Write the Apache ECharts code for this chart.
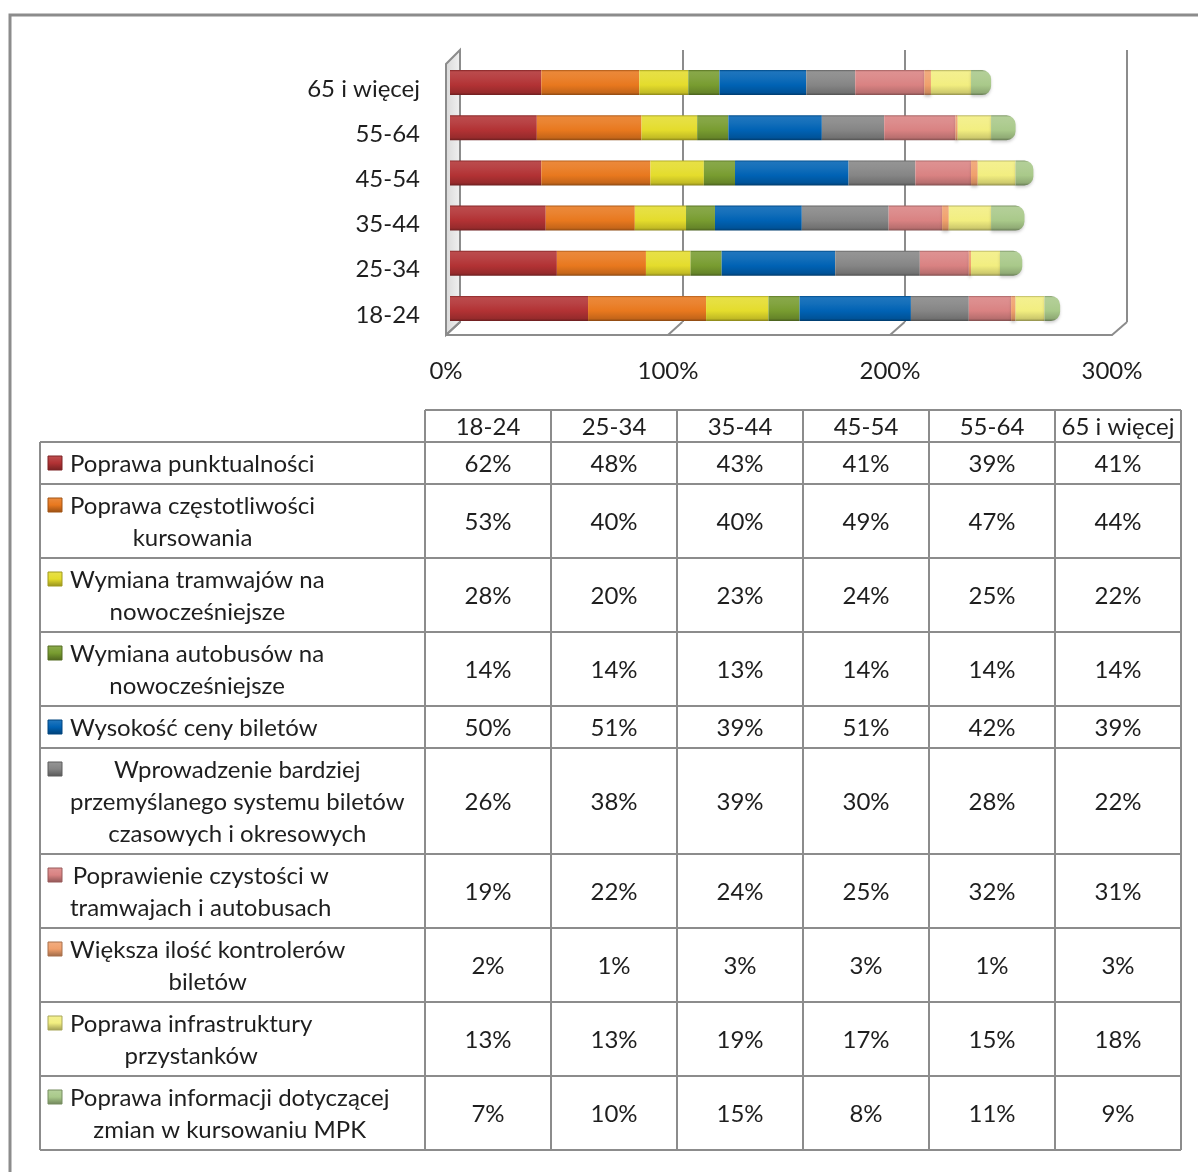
<!DOCTYPE html>
<html>
<head>
<meta charset="utf-8">
<script src="https://cdn.jsdelivr.net/npm/echarts@6/dist/echarts.min.js"></script>
<style>
html,body{margin:0;padding:0;background:#fff;}
#c{width:1198px;height:1172px;}
</style>
</head>
<body>
<div id="c"></div>
<script>
// ---------- DATA ----------
const ageGroups = ['18-24', '25-34', '35-44', '45-54', '55-64', '65 i więcej'];
const xTicks = [0, 100, 200, 300];

const seriesNames = [
  'Poprawa punktualności',
  'Poprawa częstotliwości\nkursowania',
  'Wymiana tramwajów na\nnowocześniejsze',
  'Wymiana autobusów na\nnowocześniejsze',
  'Wysokość ceny biletów',
  'Wprowadzenie bardziej\nprzemyślanego systemu biletów\nczasowych i okresowych',
  'Poprawienie czystości w\ntramwajach i autobusach',
  'Większa ilość kontrolerów\nbiletów',
  'Poprawa infrastruktury\nprzystanków',
  'Poprawa informacji dotyczącej\nzmian w kursowaniu MPK'
];

const punktualnosc   = [62, 48, 43, 41, 39, 41];
const czestotliwosc  = [53, 40, 40, 49, 47, 44];
const tramwaje       = [28, 20, 23, 24, 25, 22];
const autobusy       = [14, 14, 13, 14, 14, 14];
const cenaBiletow    = [50, 51, 39, 51, 42, 39];
const systemBiletow  = [26, 38, 39, 30, 28, 22];
const czystosc       = [19, 22, 24, 25, 32, 31];
const kontrolerzy    = [2, 1, 3, 3, 1, 3];
const infrastruktura = [13, 13, 19, 17, 15, 18];
const informacja     = [7, 10, 15, 8, 11, 9];

const seriesValues = [punktualnosc, czestotliwosc, tramwaje, autobusy, cenaBiletow,
  systemBiletow, czystosc, kontrolerzy, infrastruktura, informacja];

const seriesColors = ['#b23234', '#e8781e', '#e4dc2c', '#789c30', '#0062b4',
  '#858585', '#d98282', '#f0a06c', '#f2ee80', '#a9c98a'];

// ---------- HELPERS ----------
function hexToRgb(h){h=h.replace('#','');return [parseInt(h.substr(0,2),16),parseInt(h.substr(2,2),16),parseInt(h.substr(4,2),16)];}
function mix(c, t, a){
  const r = hexToRgb(c);
  return 'rgb(' + r.map((v,i)=>Math.round(v*(1-a)+t[i]*a)).join(',') + ')';
}
const W=[255,255,255], K=[0,0,0];
function barGrad(c){
  return new echarts.graphic.LinearGradient(0,0,0,1,[
    {offset:0, color: mix(c,K,0.25)},
    {offset:0.07, color: mix(c,W,0.12)},
    {offset:0.3, color: mix(c,W,0.08)},
    {offset:0.6, color: c},
    {offset:0.9, color: mix(c,K,0.15)},
    {offset:1, color: mix(c,K,0.4)}
  ]);
}
function swatchGrad(c){
  return new echarts.graphic.LinearGradient(0,0,0,1,[
    {offset:0, color: mix(c,W,0.15)},
    {offset:0.5, color: c},
    {offset:1, color: mix(c,K,0.35)}
  ]);
}

const FONT = 'Lato, "Liberation Sans", sans-serif';
const FS = 24;
const TXT = '#1e1e1e';
const LINE = '#8c8c8c';

const chart = echarts.init(document.getElementById('c'), null, {renderer:'canvas'});

const series = seriesValues.map((vals, i) => ({
  name: seriesNames[i].replace(/\n/g, ' '),
  type: 'bar',
  stack: 'total',
  xAxisIndex: 0, yAxisIndex: 0,
  barWidth: 25,
  data: vals,
  itemStyle: {
    color: barGrad(seriesColors[i]),
    borderRadius: i === seriesValues.length - 1 ? [0, 9, 9, 0] : 0,
    shadowColor: 'rgba(0,0,0,0.18)', shadowBlur: 3, shadowOffsetY: 2
  },
  z: 5
}));

chart.setOption({
  animation: false,
  backgroundColor: '#fff',
  grid: [
    {left: 450, width: 668, top: 60, height: 271},
    {left: 460, width: 667, top: 50, height: 272},
    {left: 446, width: 666, top: 60, height: 275}
  ],
  xAxis: [
    {gridIndex: 0, type: 'value', min: 0, max: 300, show: false},
    {gridIndex: 1, type: 'value', min: 0, max: 300, interval: 100,
      axisLine:{show:false}, axisTick:{show:false}, axisLabel:{show:false},
      splitLine:{show:true, lineStyle:{color: LINE, width: 2}}},
    {gridIndex: 2, type: 'value', min: 0, max: 300, interval: 100,
      axisLine:{show:true, lineStyle:{color: LINE, width: 2}},
      axisTick:{show:false}, splitLine:{show:false},
      axisLabel:{show:true, margin: 24, color: TXT, fontSize: FS, fontFamily: FONT,
        formatter: v => xTicks.indexOf(v) >= 0 ? v + '%' : ''}}
  ],
  yAxis: [
    {gridIndex: 0, type: 'category', data: ageGroups,
      axisLine:{show:false}, axisTick:{show:false}, splitLine:{show:false},
      axisLabel:{margin: 30, color: TXT, fontSize: FS, fontFamily: FONT, verticalAlign:'top', lineHeight: 13}},
    {gridIndex: 1, type: 'value', show: false},
    {gridIndex: 2, type: 'value', show: false}
  ],
  series: series
});

// ---------- 3D frame decorations & table ----------
const gfx = [];
gfx.push({type:'polyline', shape:{points:[[10,1172],[10,15],[1198,15]]}, style:{stroke:LINE, lineWidth:3, fill:null}, silent:true});

const fb = 335, bb = 322, backTopY = 50, frontTopY = 64;
const fx = v => chart.convertToPixel({xAxisIndex:2}, v);
const bx = v => chart.convertToPixel({xAxisIndex:1}, v);
gfx.push({type:'polygon', shape:{points:[[fx(0),frontTopY],[bx(0),backTopY],[bx(0),bb],[fx(0),fb]]},
  style:{fill:new echarts.graphic.LinearGradient(0,0,1,0,[{offset:0,color:'#d8d8d8'},{offset:1,color:'#f2f2f2'}]), stroke:LINE, lineWidth:2}, silent:true, z:1});
xTicks.forEach(v => {
  gfx.push({type:'line', shape:{x1:fx(v), y1:fb, x2:bx(v), y2:bb}, style:{stroke:LINE, lineWidth:2}, silent:true, z:1});
});

// table
const colLeft = 425, colW = 126, labelLeft = 40, headTop = 410, headH = 32;
const nCols = ageGroups.length;
const tableRight = colLeft + colW * nCols;
const rowH = n => 10 + 32 * n;
gfx.push({type:'line', shape:{x1:colLeft, y1:headTop, x2:tableRight, y2:headTop}, style:{stroke:LINE, lineWidth:2}, silent:true});
for (let c = 0; c <= nCols; c++) {
  gfx.push({type:'line', shape:{x1:colLeft + c*colW, y1:headTop, x2:colLeft + c*colW, y2:headTop + headH}, style:{stroke:LINE, lineWidth:2}, silent:true});
}
ageGroups.forEach((g, c) => {
  gfx.push({type:'text', x: colLeft + c*colW + colW/2, y: headTop + headH/2 + 1,
    style:{text:g, fill:TXT, font:FS + 'px ' + FONT, align:'center', verticalAlign:'middle'}, silent:true});
});

const meas = document.createElement('canvas').getContext('2d');
meas.font = FS + 'px Lato';

let y = headTop + headH;
gfx.push({type:'line', shape:{x1:labelLeft, y1:y, x2:tableRight, y2:y}, style:{stroke:LINE, lineWidth:2}, silent:true});
seriesNames.forEach((name, i) => {
  const lines = name.split('\n');
  const h = rowH(lines.length);
  const cy = y + h/2;
  [labelLeft].concat(ageGroups.map((g,c)=>colLeft + c*colW), [tableRight]).forEach(xx => {
    gfx.push({type:'line', shape:{x1:xx, y1:y, x2:xx, y2:y+h}, style:{stroke:LINE, lineWidth:2}, silent:true});
  });
  const firstY = cy - (lines.length - 1) * 16;
  gfx.push({type:'rect', shape:{x:48, y:firstY-7, width:14, height:14},
    style:{fill:swatchGrad(seriesColors[i]), stroke:mix(seriesColors[i],K,0.3), lineWidth:1}, silent:true});
  const maxW = Math.max.apply(null, lines.map(l => meas.measureText(l).width));
  gfx.push({type:'text', x: 70 + maxW/2, y: cy + 1,
    style:{text:name, fill:TXT, font:FS + 'px ' + FONT, align:'center', verticalAlign:'middle', lineHeight:32}, silent:true});
  seriesValues[i].forEach((v, c) => {
    gfx.push({type:'text', x: colLeft + c*colW + colW/2, y: cy + 1,
      style:{text: v + '%', fill:TXT, font:FS + 'px ' + FONT, align:'center', verticalAlign:'middle'}, silent:true});
  });
  y += h;
  gfx.push({type:'line', shape:{x1:labelLeft, y1:y, x2:tableRight, y2:y}, style:{stroke:LINE, lineWidth:2}, silent:true});
});

chart.setOption({graphic: gfx});
</script>
</body>
</html>
